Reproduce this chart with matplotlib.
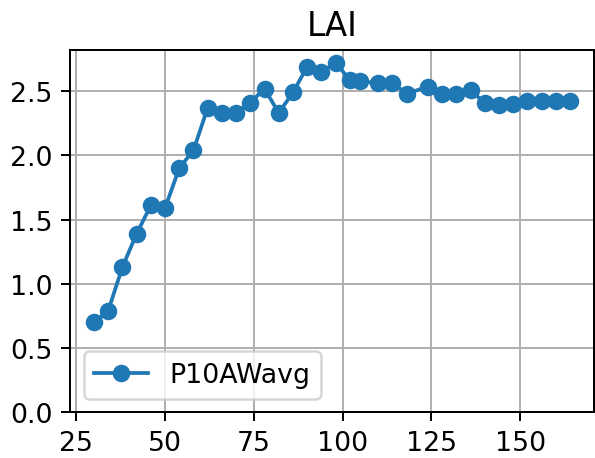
import matplotlib
matplotlib.use("Agg")
import matplotlib.pyplot as plt

# LAI time series, day vs value
days = [30, 34, 38, 42, 46, 50, 54, 58, 62, 66, 70, 74, 78, 82, 86, 90, 94, 98,
        102, 105, 110, 114, 118, 124, 128, 132, 136, 140, 144, 148, 152, 156, 160, 164]
lai = [0.70, 0.79, 1.13, 1.39, 1.61, 1.59, 1.90, 2.04, 2.37, 2.33, 2.33, 2.41,
       2.52, 2.33, 2.49, 2.69, 2.65, 2.72, 2.59, 2.58, 2.56, 2.565, 2.48, 2.535,
       2.48, 2.48, 2.51, 2.405, 2.395, 2.40, 2.42, 2.42, 2.42, 2.42]
series_name = "P10AWavg"

plt.rcParams["font.size"] = 10.7

dpi = 180
fig, ax = plt.subplots(figsize=(595 / dpi, 459 / dpi), dpi=dpi)

ax.plot(days, lai, marker="o", label=series_name)
ax.set_ylim(bottom=0)
ax.set_title("LAI", fontsize=13)
ax.grid(True)
ax.legend(loc="lower left")

fig.subplots_adjust(left=0.118, right=0.998, top=0.889, bottom=0.100)
fig.savefig("out.png", dpi=dpi)
